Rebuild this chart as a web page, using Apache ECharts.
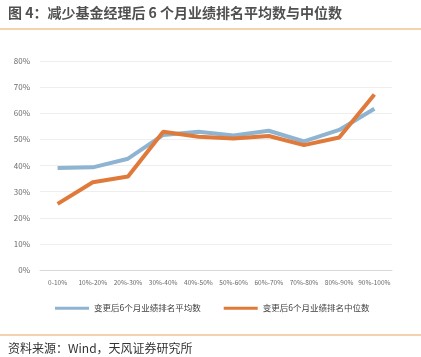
<!DOCTYPE html>
<html><head><meta charset="utf-8">
<script src="https://cdn.jsdelivr.net/npm/echarts@6/dist/echarts.min.js"></script>
<style>html,body{margin:0;padding:0;background:#fff}#c{width:421px;height:357px}</style>
</head><body><div id="c"></div>
<script>
const categories = ['0-10%','10%-20%','20%-30%','30%-40%','40%-50%','50%-60%','60%-70%','70%-80%','80%-90%','90%-100%'];
const meanValues = [39.0, 39.3, 42.6, 51.7, 52.9, 51.5, 53.3, 49.2, 53.6, 61.7];
const medianValues = [25.3, 33.6, 35.8, 52.9, 51.0, 50.3, 51.3, 47.8, 50.7, 67.2];
const seriesNames = ['变更后6个月业绩排名平均数','变更后6个月业绩排名中位数'];
const titleText = '图 4：减少基金经理后 6 个月业绩排名平均数与中位数';
const sourceText = '资料来源：Wind，天风证券研究所';

const chart = echarts.init(document.getElementById('c'));
const font = '"Noto Sans CJK SC", "Noto Sans", sans-serif';
chart.setOption({
  animation: false,
  textStyle: {fontFamily: font},
  grid: {left: 40, right: 29, top: 61, bottom: 87},
  legend: {
    top: 299, left: 50, itemGap: 23, itemWidth: 34, itemHeight: 3,
    icon: 'rect',
    textStyle: {fontSize: 8.5, color: '#404040', fontFamily: font},
    data: seriesNames
  },
  xAxis: {
    type: 'category', data: categories, boundaryGap: true,
    axisLine: {lineStyle: {color: '#d9d9d9'}},
    axisTick: {show: false},
    axisLabel: {fontSize: 6.5, color: '#6a6a6a', margin: 9, interval: 0}
  },
  yAxis: {
    type: 'value', min: 0, max: 80, interval: 10,
    axisLine: {show: false}, axisTick: {show: false},
    splitLine: {lineStyle: {color: '#eeeeee'}},
    axisLabel: {fontSize: 8, color: '#6a6a6a', formatter: v => v + '%', margin: 10}
  },
  series: [
    {name: seriesNames[0], type: 'line', data: meanValues, symbol: 'none',
     lineStyle: {width: 4, color: '#8fb4d2'}, itemStyle: {color: '#8fb4d2'}},
    {name: seriesNames[1], type: 'line', data: medianValues, symbol: 'none',
     lineStyle: {width: 4, color: '#e07a3a'}, itemStyle: {color: '#e07a3a'}}
  ],
  graphic: [
    {type: 'text', left: 8, top: 6, style: {text: titleText, font: 'bold 14px ' + font, fill: '#505050'}},
    {type: 'rect', left: 0, top: 28.5, shape: {width: 421, height: 1}, style: {fill: '#e8a560'}},
    {type: 'rect', left: 0, top: 334.5, shape: {width: 421, height: 1}, style: {fill: '#e8a560'}},
    {type: 'text', left: 8, top: 342, style: {text: sourceText, font: '12px ' + font, fill: '#333'}}
  ]
});
</script></body></html>
